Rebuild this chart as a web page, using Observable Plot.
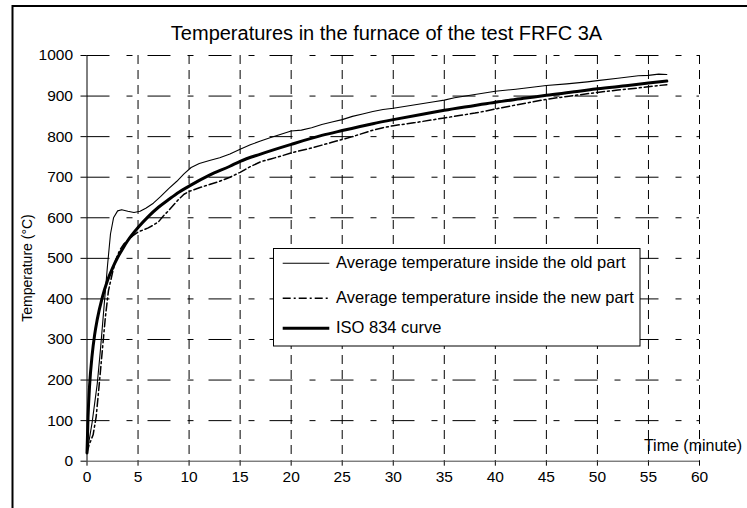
<!DOCTYPE html>
<html><head><meta charset="utf-8">
<script src="https://cdn.jsdelivr.net/npm/d3@7"></script>
<script src="https://cdn.jsdelivr.net/npm/@observablehq/plot@0.6"></script>
<style>
html,body{margin:0;padding:0;background:#fff;}
#chart{width:747px;height:508px;overflow:hidden;}
svg{display:block;}
</style></head><body><div id="chart"></div>
<script>
const chartTitle = "Temperatures in the furnace of the test FRFC 3A";
const xLabel = "Time (minute)";
const yLabel = "Temperature (°C)";
const xTicks = [0,5,10,15,20,25,30,35,40,45,50,55,60];
const yTicks = [0,100,200,300,400,500,600,700,800,900,1000];
const seriesNames = ["Average temperature inside the old part","Average temperature inside the new part","ISO 834 curve"];

// [time (minute), temperature (°C)]
const oldPart = [[0,20],[0.2,50],[0.5,95],[1,190],[1.3,270],[1.6,360],[2,480],[2.3,560],[2.6,600],[3,617],[3.4,620],[4,616],[4.6,613],[5.2,616],[5.8,624],[6.5,636],[7.2,652],[8,672],[8.8,690],[9.5,708],[10.2,724],[11,734],[12,741],[13,748],[14,757],[15,769],[16,780],[17,789],[18,798],[19,806],[20,814],[21,816],[22,822],[23,830],[24,836],[25,842],[26,850],[27,856],[28,862],[29,867],[30,870],[32,878],[34,886],[35,890],[36,896],[38,904],[40,912],[42,917],[44,923],[45,926],[47,930],[49,935],[50,938],[52,944],[54,950],[55,951],[56,954],[56.8,953]];
const newPart = [[0,20],[0.2,40],[0.6,65],[0.9,110],[1.2,190],[1.5,273],[1.8,355],[2.1,420],[2.5,465],[2.8,495],[3.2,520],[3.6,535],[4,545],[4.5,556],[5,565],[5.5,570],[6,575],[6.5,582],[7,590],[7.5,605],[8,618],[8.5,632],[9,646],[9.5,658],[10,665],[11,674],[12,682],[13,690],[14,700],[15,712],[16,726],[17,738],[18,745],[19,752],[20,760],[22,772],[24,786],[26,800],[28,816],[29,822],[30,827],[32,834],[35,846],[38,858],[40,868],[42,878],[45,892],[47,899],[50,909],[52,915],[54,920],[56,926],[56.8,928]];
const isoCurve = [[0,20],[0.1,108],[0.25,185],[0.5,261],[0.75,312],[1,349],[1.5,404],[2,445],[2.5,476],[3,502],[3.5,524],[4,544],[5,576],[6,603],[7,626],[8,645],[9,663],[10,678],[12,705],[14,727],[15,739],[17,757],[20,781],[23,803],[25,815],[28,832],[30,842],[33,856],[35,865],[38,877],[40,885],[43,895],[45,902],[48,911],[50,918],[53,926],[55,932],[56.8,937]];

const rows = d => d.map(([t, T]) => ({t, T}));
const FONT = "'Liberation Sans', Arial, Helvetica, sans-serif";

const plot = Plot.plot({
  width: 747, height: 508,
  marginLeft: 86.5, marginRight: 48, marginTop: 55, marginBottom: 47.3,
  style: `font-family:${FONT};font-size:15px;background:#fff;color:#000;overflow:visible;`,
  x: {domain: [0, 60]},
  y: {domain: [0, 1000]},
  marks: [
    Plot.ruleX(xTicks.filter(v => v > 0), {stroke: "#000", strokeWidth: 1, strokeDasharray: "9,6"}),
    Plot.ruleY(yTicks.filter(v => v > 0), {stroke: "#000", strokeWidth: 1, strokeDasharray: "23,17,6,15"}),
    Plot.axisX({ticks: xTicks, tickSize: 5, tickPadding: 5, label: null, stroke: "#000", fill: "#000", fontSize: 15.5, tickFormat: d3.format("d")}),
    Plot.axisY({ticks: yTicks, tickSize: 6, tickPadding: 8, label: null, stroke: "#000", fill: "#000", fontSize: 15.5, tickFormat: d3.format("d")}),
    Plot.ruleY([0], {stroke: "#444", strokeWidth: 1}),
    Plot.ruleX([0], {stroke: "#000", strokeWidth: 1}),
    Plot.line(rows(newPart), {x: "t", y: "T", stroke: "#000", strokeWidth: 1.5, strokeDasharray: "8,3,2,3"}),
    Plot.line(rows(oldPart), {x: "t", y: "T", stroke: "#000", strokeWidth: 1.1}),
    Plot.line(rows(isoCurve), {x: "t", y: "T", stroke: "#000", strokeWidth: 3, curve: "monotone-x"})
  ]
});
document.getElementById("chart").appendChild(plot);

const svg = d3.select(plot);
// outer frame (top and left edges visible)
svg.append("path").attr("d", "M12.5,508 L12.5,6 L747,6").attr("fill", "none").attr("stroke", "#000").attr("stroke-width", 2);
// title
svg.append("text").attr("x", 386.5).attr("y", 40).attr("text-anchor", "middle")
  .attr("font-size", 20).attr("font-family", FONT).attr("fill", "#000").text(chartTitle);
// axis titles
svg.append("text").attr("transform", "translate(32,268) rotate(-90)").attr("text-anchor", "middle")
  .attr("font-size", 14).attr("font-family", FONT).attr("fill", "#000").text(yLabel);
svg.append("text").attr("x", 742).attr("y", 450.7).attr("text-anchor", "end")
  .attr("font-size", 16).attr("font-family", FONT).attr("fill", "#000").text(xLabel);

// legend
const lg = svg.append("g");
lg.append("rect").attr("x", 273.5).attr("y", 248.5).attr("width", 366.5).attr("height", 97.5)
  .attr("fill", "#fff").attr("stroke", "#000").attr("stroke-width", 1);
const legendStyles = [
  {y: 263.3, w: 1.1, dash: null},
  {y: 298.3, w: 1.5, dash: "8,3,2,3"},
  {y: 328.3, w: 3, dash: null}
];
seriesNames.forEach((name, i) => {
  const s = legendStyles[i];
  const l = lg.append("line").attr("x1", 282.7).attr("x2", 329.3).attr("y1", s.y).attr("y2", s.y)
    .attr("stroke", "#000").attr("stroke-width", s.w);
  if (s.dash) l.attr("stroke-dasharray", s.dash);
  lg.append("text").attr("x", 336).attr("y", s.y + 5).attr("text-anchor", "start").attr("font-size", 16.5)
    .attr("font-family", FONT).attr("fill", "#000").text(name);
});
</script>
</body></html>
